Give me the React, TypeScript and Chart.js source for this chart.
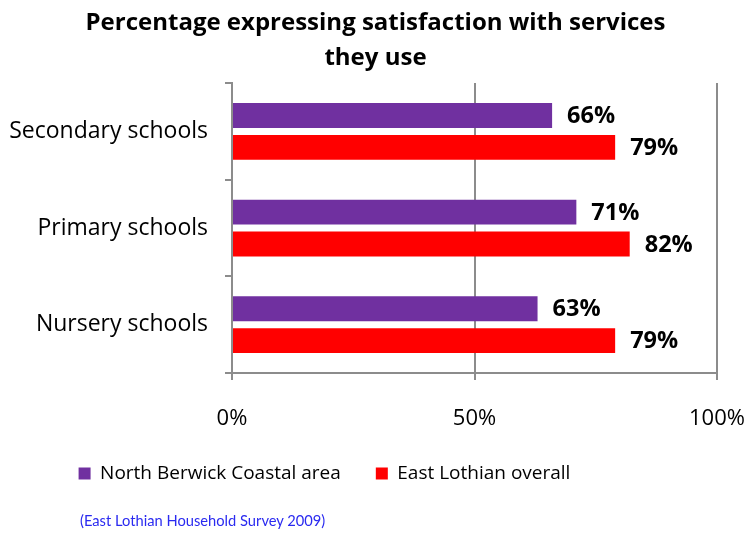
import React, { useEffect, useRef } from "react";
import { Chart, registerables } from "chart.js";

Chart.register(...registerables);

const categories = ["Secondary schools", "Primary schools", "Nursery schools"];
const northBerwick = [66, 71, 63];
const eastLothian = [79, 82, 79];
const seriesNames = ["North Berwick Coastal area", "East Lothian overall"];
const xTicks = [0, 50, 100];
const titleLines = ["Percentage expressing satisfaction with services", "they use"];
const sourceText = "(East Lothian Household Survey 2009)";

const FONT = "'Open Sans', sans-serif";

const valueLabels = {
  id: "valueLabels",
  afterDatasetsDraw(chart: any) {
    const ctx = chart.ctx;
    ctx.save();
    ctx.font = `bold 23.5px ${FONT}`;
    ctx.fillStyle = "#000";
    ctx.textAlign = "left";
    ctx.textBaseline = "middle";
    chart.data.datasets.forEach((ds: any, i: number) => {
      const meta = chart.getDatasetMeta(i);
      meta.data.forEach((bar: any, j: number) => {
        ctx.fillText(ds.data[j] + "%", bar.x + 15, bar.y + 1);
      });
    });
    ctx.restore();
  },
};

// The original legend sits left of centre; nudge the legend box.
const legendShift = {
  id: "legendShift",
  afterLayout(chart: any) {
    const lg = chart.legend;
    if (lg) {
      lg.left -= 51;
      lg.right -= 51;
    }
  },
};

export default function App() {
  const ref = useRef<HTMLCanvasElement>(null);
  useEffect(() => {
    if (!ref.current) return;
    const chart = new Chart(ref.current, {
      type: "bar",
      data: {
        labels: categories,
        datasets: [
          { label: seriesNames[0], data: northBerwick, backgroundColor: "#7030A0", borderWidth: 0, categoryPercentage: 0.66, barPercentage: 0.78 },
          { label: seriesNames[1], data: eastLothian, backgroundColor: "#FF0000", borderWidth: 0, categoryPercentage: 0.66, barPercentage: 0.78 },
        ],
      },
      options: {
        indexAxis: "y",
        animation: false,
        responsive: false,
        layout: { padding: { left: 8, right: 8, top: 0, bottom: 42 } },
        scales: {
          x: {
            min: 0,
            max: 100,
            afterBuildTicks(scale: any) {
              scale.ticks = xTicks.map((v) => ({ value: v }));
            },
            ticks: {
              callback: (v: any) => v + "%",
              color: "#000",
              font: { family: FONT, size: 22 },
              padding: 26,
              maxRotation: 0,
            },
            grid: { color: "#8c8c8c", lineWidth: 2, tickLength: 7 },
            border: { color: "#8c8c8c", width: 2 },
            afterFit(scale: any) {
              scale.height = 56;
              scale.paddingRight = 34;
              scale.paddingLeft = 0;
            },
          },
          y: {
            ticks: {
              color: "#000",
              font: { family: FONT, size: 23 },
              padding: 17,
            },
            grid: { display: true, drawOnChartArea: false, color: "#8c8c8c", lineWidth: 2, tickLength: 7 },
            border: { color: "#8c8c8c", width: 2 },
            afterFit(scale: any) {
              scale.width = 224;
              scale.paddingTop = 0;
              scale.paddingBottom = 0;
            },
          },
        },
        plugins: {
          title: {
            display: true,
            text: titleLines,
            color: "#000",
            font: { family: FONT, size: 24, weight: "bold", lineHeight: 1.46 },
            padding: { top: 6, bottom: 7 },
          },
          legend: {
            display: true,
            position: "bottom",
            labels: {
              color: "#000",
              font: { family: FONT, size: 19 },
              boxWidth: 12,
              boxHeight: 12,
              padding: 35,
            },
          },
          tooltip: { enabled: false },
        },
      },
      plugins: [valueLabels, legendShift],
    });
    return () => chart.destroy();
  }, []);
  return (
    <div style={{ position: "absolute", left: 0, top: 0, width: 751, height: 535, background: "#fff" }}>
      <canvas ref={ref} width={751} height={535} style={{ display: "block" }} />
      <div
        style={{
          position: "absolute",
          left: 80,
          top: 511,
          fontFamily: "Lato, sans-serif",
          fontSize: 14.7,
          color: "#2a2af0",
          whiteSpace: "nowrap",
        }}
      >
        {sourceText}
      </div>
    </div>
  );
}
